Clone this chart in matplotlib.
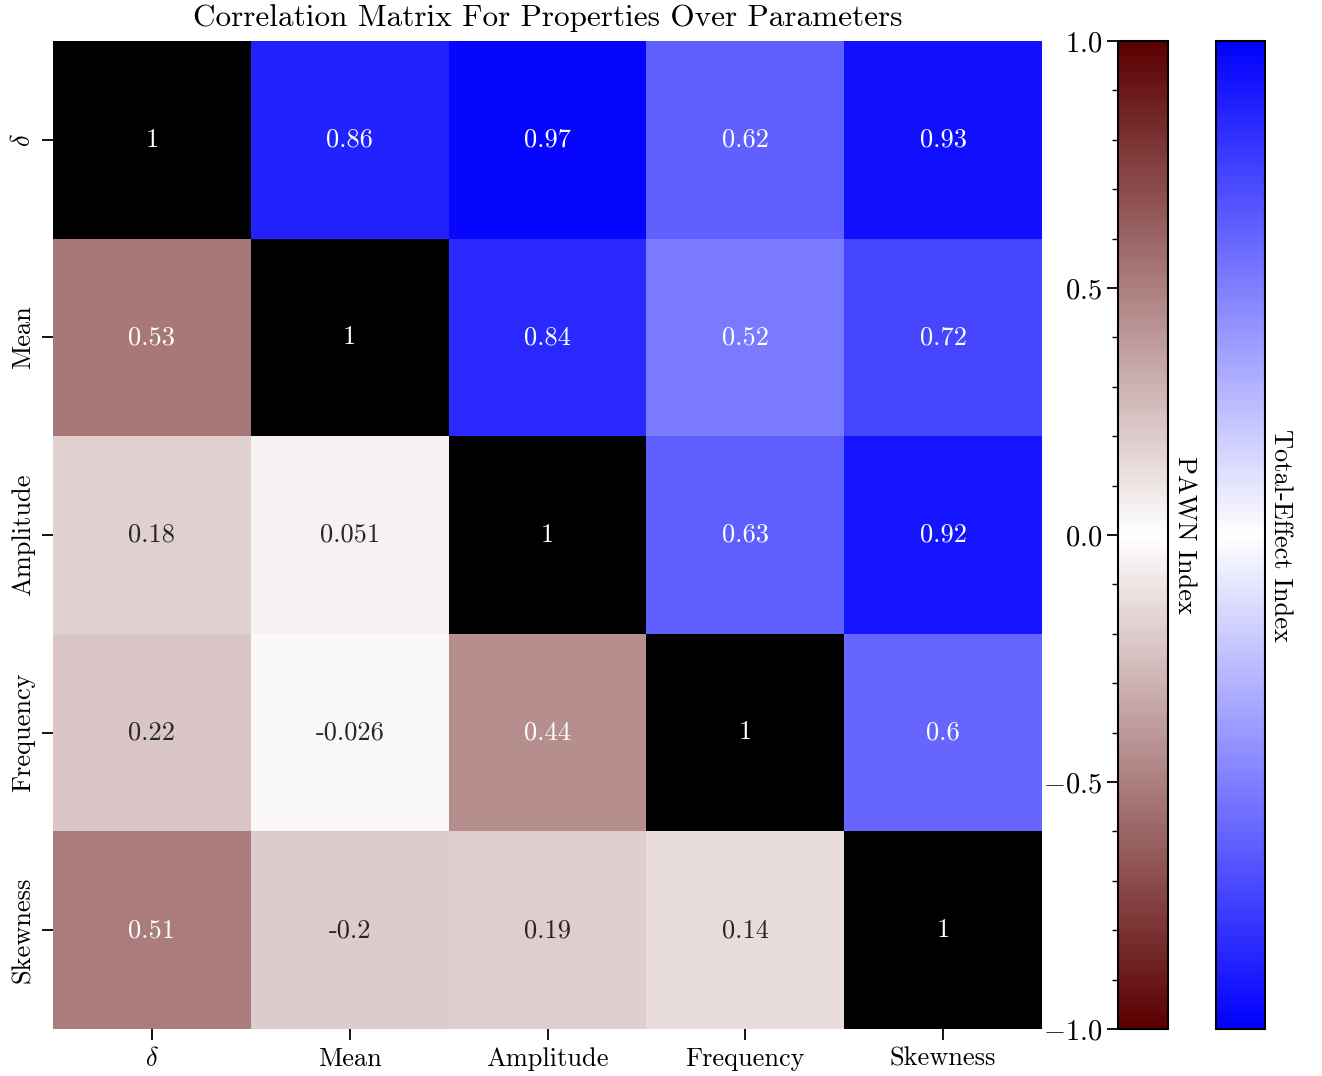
import numpy as np
import matplotlib
matplotlib.use("Agg")
import matplotlib.pyplot as plt
from matplotlib.colors import LinearSegmentedColormap, Normalize
import matplotlib.cm as cm
from matplotlib.ticker import MultipleLocator

plt.rcParams["font.family"] = ["cmr10", "DejaVu Serif"]
plt.rcParams["mathtext.fontset"] = "cm"
plt.rcParams["axes.formatter.use_mathtext"] = True

labels = [r"$\delta$", "Mean", "Amplitude", "Frequency", "Skewness"]

# Upper triangle: Total-Effect index, lower triangle: PAWN index
corr = np.array([
    [1.0,   0.86,   0.97, 0.62, 0.93],
    [0.53,  1.0,    0.84, 0.52, 0.72],
    [0.18,  0.051,  1.0,  0.63, 0.92],
    [0.22, -0.026,  0.44, 1.0,  0.6],
    [0.51, -0.2,    0.19, 0.14, 1.0],
])

brown = LinearSegmentedColormap.from_list("pawn", ["#5a0000", "#ffffff", "#5a0000"])
blue = LinearSegmentedColormap.from_list("total", ["#0000ff", "#ffffff", "#0000ff"])
norm = Normalize(-1, 1)

fig = plt.figure(figsize=(13.22, 10.76), dpi=100)
ax = fig.add_axes([0.0401, 0.0437, 0.7481, 0.9182])
cax1 = fig.add_axes([0.8457, 0.0437, 0.0378, 0.9182])
cax2 = fig.add_axes([0.9198, 0.0437, 0.0371, 0.9182])

n = len(labels)
i_idx, j_idx = np.indices(corr.shape)
lower = np.ma.masked_where(~(i_idx > j_idx), corr)
upper = np.ma.masked_where(~(i_idx < j_idx), corr)
diag = np.ma.masked_where(i_idx != j_idx, corr)

edges = np.arange(n + 1)
ax.pcolormesh(edges, edges, lower, cmap=brown, norm=norm)
ax.pcolormesh(edges, edges, upper, cmap=blue, norm=norm)
ax.pcolormesh(edges, edges, diag, cmap=LinearSegmentedColormap.from_list("k", ["#000000", "#000000"]), norm=norm)
ax.set_xlim(0, n)
ax.set_ylim(n, 0)

def luminance(rgb):
    r, g, b = [c / 12.92 if c <= 0.03928 else ((c + 0.055) / 1.055) ** 2.4 for c in rgb[:3]]
    return 0.2126 * r + 0.7152 * g + 0.0722 * b

for i in range(n):
    for j in range(n):
        v = corr[i, j]
        if i == j:
            rgb = (0, 0, 0)
        elif i > j:
            rgb = brown(norm(v))
        else:
            rgb = blue(norm(v))
        color = ".15" if luminance(rgb) > 0.408 else "white"
        ax.text(j + 0.5, i + 0.5, format(v, ".2g"), ha="center", va="center",
                color=color, fontsize=19)

ax.set_xticks(np.arange(n) + 0.5)
ax.set_yticks(np.arange(n) + 0.5)
ax.set_xticklabels(labels, fontsize=19)
ax.set_yticklabels(labels, fontsize=19, rotation=90, va="center")
ax.tick_params(length=8, width=1.3, pad=5)
for s in ax.spines.values():
    s.set_visible(False)
ax.set_title("Correlation Matrix For Properties Over Parameters", fontsize=22.5, pad=11)

cb1 = fig.colorbar(cm.ScalarMappable(norm=norm, cmap=brown), cax=cax1)
cb1.ax.yaxis.set_ticks_position("left")
cb1.set_ticks([-1.0, -0.5, 0.0, 0.5, 1.0])
cb1.ax.yaxis.set_minor_locator(MultipleLocator(0.1))
cb1.ax.tick_params(which="major", length=8, width=1.3, labelsize=20.5)
cb1.ax.tick_params(which="minor", length=4, width=1.0)
cb1.ax.yaxis.set_label_position("right")
cb1.set_label("PAWN Index", rotation=270, fontsize=19, labelpad=20)
cb1.outline.set_linewidth(1.5)

cb2 = fig.colorbar(cm.ScalarMappable(norm=norm, cmap=blue), cax=cax2)
cb2.set_ticks([])
cb2.ax.yaxis.set_label_position("right")
cb2.set_label("Total-Effect Index", rotation=270, fontsize=19, labelpad=20)
cb2.outline.set_linewidth(1.5)

fig.savefig("out.png", dpi=100)
